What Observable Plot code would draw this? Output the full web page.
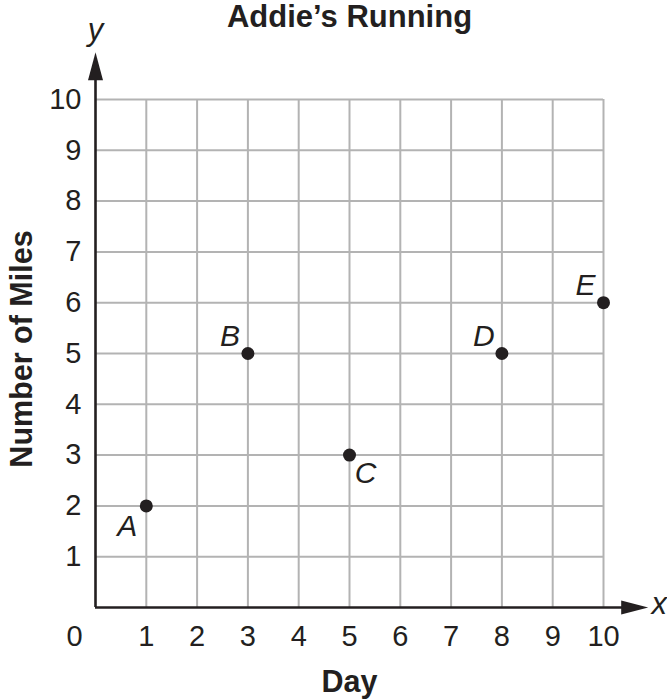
<!DOCTYPE html>
<html>
<head>
<meta charset="utf-8">
<script src="https://cdn.jsdelivr.net/npm/d3@7"></script>
<script src="https://cdn.jsdelivr.net/npm/@observablehq/plot@0.6"></script>
<style>
  html, body { margin: 0; padding: 0; background: #ffffff; }
  #chart svg { display: block; }
</style>
</head>
<body>
<div id="chart"></div>
<script>
// ---- data ----
const titleText = "Addie’s Running";
const xLabel = "Day";
const yLabel = "Number of Miles";
const pointNames = ["A", "B", "C", "D", "E"];
const days = [1, 3, 5, 8, 10];
const miles = [2, 5, 3, 5, 6];
const labelSides = ["sw", "nw", "se", "nw", "nw"];
const xTicks = [1, 2, 3, 4, 5, 6, 7, 8, 9, 10];
const yTicks = [1, 2, 3, 4, 5, 6, 7, 8, 9, 10];
const xDomain = [0, 10];
const yDomain = [0, 10];
const xAxisEnd = 10.88; // arrow tip of x axis (data units)
const yAxisEnd = 10.93; // arrow tip of y axis (data units)

// ---- build ----
const points = pointNames.map((name, i) => ({ name, day: days[i], miles: miles[i], side: labelSides[i] }));
const sideOffsets = { nw: [-18, -17], ne: [18, -17], sw: [-19, 20], se: [16, 18] };
const ink = "#231f20";
const gridColor = "#b3b3b3";
const font = "'Liberation Sans', Arial, Helvetica, sans-serif";

const arrowRight = { draw(ctx) { ctx.moveTo(0, 0); ctx.lineTo(-27, -7); ctx.lineTo(-27, 7); ctx.closePath(); } };
const arrowUp = { draw(ctx) { ctx.moveTo(0, 0); ctx.lineTo(-7.5, 28); ctx.lineTo(7.5, 28); ctx.closePath(); } };

const labelMarks = ["nw", "ne", "sw", "se"].map(side =>
  Plot.text(points.filter(p => p.side === side), {
    x: "day", y: "miles", text: "name",
    dx: sideOffsets[side][0], dy: sideOffsets[side][1],
    fontSize: 30, fontStyle: "italic", fill: ink
  })
);

const chart = Plot.plot({
  width: 667,
  height: 700,
  marginLeft: 95,
  marginRight: 64,
  marginTop: 99,
  marginBottom: 93,
  x: { domain: xDomain, axis: null },
  y: { domain: yDomain, axis: null },
  style: { fontFamily: font, color: ink, background: "#ffffff", overflow: "visible" },
  marks: [
    // grid
    Plot.ruleX(xTicks, { x: d => d, y1: 0, y2: 10, stroke: gridColor, strokeWidth: 2 }),
    Plot.ruleY(yTicks, { y: d => d, x1: 0, x2: 10, stroke: gridColor, strokeWidth: 2 }),
    // axes
    Plot.ruleY([0], { x1: 0, x2: xAxisEnd - 0.3, stroke: ink, strokeWidth: 2.6 }),
    Plot.ruleX([0], { y1: 0, y2: yAxisEnd - 0.3, stroke: ink, strokeWidth: 2.6 }),
    Plot.dot([xAxisEnd], { x: d => d, y: 0, symbol: arrowRight, fill: ink, stroke: "none" }),
    Plot.dot([yAxisEnd], { x: 0, y: d => d, symbol: arrowUp, fill: ink, stroke: "none" }),
    // tick labels
    Plot.text(xTicks, { x: d => d, y: 0, text: d => String(d), dy: 29, fontSize: 29, fill: ink }),
    Plot.text(yTicks, { x: 0, y: d => d, text: d => String(d), dx: -14, textAnchor: "end", fontSize: 29, fill: ink }),
    Plot.text(["0"], { x: 0, y: 0, text: d => d, dx: -21, dy: 29, fontSize: 29, fill: ink }),
    // axis letters
    Plot.text(["x"], { x: xAxisEnd, y: 0, text: d => d, dx: 11, dy: -3.5, fontSize: 31, fontStyle: "italic", fill: ink }),
    Plot.text(["y"], { x: 0, y: yAxisEnd, text: d => d, dx: 0, dy: -22, fontSize: 31, fontStyle: "italic", fill: ink }),
    // points
    Plot.dot(points, { x: "day", y: "miles", r: 6.5, fill: ink, stroke: "none" }),
    ...labelMarks,
    // titles
    Plot.text([titleText], { frameAnchor: "top", textAnchor: "middle", lineAnchor: "middle", text: d => d, dy: -82, fontSize: 31, fontWeight: "bold", fill: ink }),
    Plot.text([yLabel], { frameAnchor: "left", textAnchor: "middle", lineAnchor: "middle", text: d => d, rotate: -90, dx: -73, dy: -4.5, fontSize: 30.5, fontWeight: "bold", fill: ink }),
    Plot.text([xLabel], { frameAnchor: "bottom", textAnchor: "middle", lineAnchor: "middle", text: d => d, dy: 75, fontSize: 30.5, fontWeight: "bold", fill: ink })
  ]
});
document.getElementById("chart").appendChild(chart);
</script>
</body>
</html>
